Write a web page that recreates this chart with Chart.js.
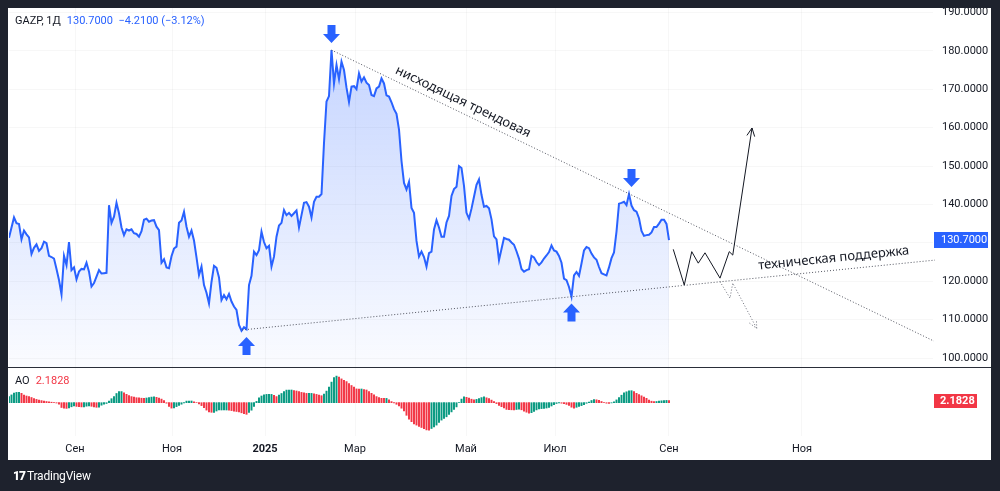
<!DOCTYPE html>
<html lang="ru">
<head>
<meta charset="utf-8">
<title>GAZP, 1Д</title>
<script src="https://cdn.jsdelivr.net/npm/chart.js@4/dist/chart.umd.min.js"></script>
<style>
    html, body { margin: 0; padding: 0; }
    body { width: 1000px; height: 491px; background: #1e222d; position: relative; overflow: hidden; font-family: Roboto, 'Noto Sans', sans-serif; }
    #panel { position: absolute; left: 8px; top: 8px; width: 983px; height: 452px; background: #fff; overflow: hidden; }
    #priceChart { position: absolute; left: -8px; top: -8px; }
    #aoChart { position: absolute; left: -8px; top: 359px; }
    #sep { position: absolute; left: 0; top: 359px; width: 983px; height: 1px; background: #2a2e39; }
    .legend { position: absolute; font-size: 11px; line-height: 14px; color: #131722; white-space: nowrap; }
    .legend span { margin-left: 6px; }
    #logo { position: absolute; left: 13px; top: 469px; color: #fff; font-size: 12px; line-height: 14px; letter-spacing: -0.2px; }
    #logo b { font-weight: 900; margin-right: 2px; letter-spacing: -1px; }
</style>
</head>
<body>
<div id="panel">
    <canvas id="priceChart" width="1000" height="367"></canvas>
    <canvas id="aoChart" width="1000" height="124"></canvas>
    <div id="sep"></div>
</div>
<div class="legend" style="left:15px; top:14px;"><b style="font-weight:normal" id="ticker"></b><span id="lastQuote" style="color:#2962ff"></span></div>
<div class="legend" style="left:15px; top:374px;">AO<span id="aoLast" style="color:#f23645"></span></div>
<div id="logo"><b>17</b>TradingView</div>

<script>
const ticker = 'GAZP, 1Д';

// daily closes, one per bar
const closes = [
    131.3, 134.0, 136.6, 135.1, 134.9, 130.9, 133.2, 132.2, 131.4, 127.1,
    128.7, 129.6, 127.9, 128.6, 130.3, 129.9, 126.6, 126.3, 125.9, 123.2,
    120.3, 116.6, 126.6, 124.2, 130.2, 122.9, 123.6, 120.5, 122.5, 123.2,
    123.1, 124.8, 122.5, 118.6, 119.5, 121.2, 122.9, 122.0, 122.1, 122.2,
    139.8, 135.2, 136.8, 140.4, 137.7, 134.0, 132.0, 133.5, 133.2, 133.5,
    132.5, 132.3, 131.6, 133.0, 136.0, 136.3, 135.5, 135.8, 135.9, 134.2,
    133.3, 124.8, 125.7, 123.6, 123.4, 126.5,
    128.5, 129.0, 135.2, 135.8, 138.1, 134.2, 131.6, 133.2, 130.6, 126.2,
    121.6, 123.8, 119.0, 117.0, 114.2, 119.8, 124.0, 123.5, 121.0, 115.1,
    116.4, 115.3, 116.7, 114.7, 113.4, 112.5, 108.6, 107.1, 108.0, 107.5,
    119.0, 121.4, 127.7, 126.8, 128.1, 132.9, 130.2, 128.6, 129.2, 123.8,
    126.4, 131.6, 134.5, 135.2, 138.5, 137.2, 137.8, 137.0, 137.7, 138.4,
    134.0, 137.2, 140.4, 140.6, 139.4, 136.6, 140.7, 142.0, 142.0, 142.7,
    156.0, 166.8, 168.2, 180.2, 171.5, 176.3, 172.6,
    177.2, 175.0, 170.4, 166.7, 170.7, 170.8, 170.0, 174.1, 172.0, 173.1,
    171.7, 171.1, 168.5, 168.2, 170.2, 170.7, 172.8, 171.5, 168.4, 168.1,
    166.6, 164.8, 163.6, 159.5, 151.3, 145.6, 143.9, 145.9, 139.1, 137.8,
    130.5, 126.4, 127.7, 126.3, 123.8, 127.3, 127.7, 133.5, 135.9, 134.0,
    131.6, 131.6, 135.3, 137.0, 142.2, 144.0, 144.6, 150.0, 149.5, 144.8,
    137.8, 136.3, 138.9, 142.0, 145.1, 146.5, 142.5, 139.4, 139.6, 139.0,
    136.1, 131.7, 130.9, 125.5, 128.4, 131.3,
    131.0, 130.8, 130.1, 129.5, 127.8, 125.9, 123.2, 122.5, 122.9, 123.1,
    126.6, 126.2, 125.0, 124.2, 124.9, 125.9, 126.7, 127.6, 129.3, 128.0,
    127.7, 126.6, 124.8, 120.7, 120.3, 118.5, 116.0, 121.5, 122.4, 121.4,
    124.6, 128.0, 128.9, 128.6, 127.2, 126.2, 125.6, 123.7, 122.1, 121.8,
    121.5, 123.6, 126.0, 127.5, 132.9, 140.2, 140.4, 140.7, 139.8, 142.7,
    139.7, 138.5, 138.1, 136.4, 133.1, 131.8, 132.0, 132.1, 132.7, 134.1,
    134.1, 135.0, 136.0, 136.0, 134.91, 130.7
];

// Awesome Oscillator, same bars
const aoValues = [
    6.0, 7.8, 9.6, 10.3, 10.3, 9.4, 7.6, 6.7, 6.2, 5.2,
    4.1, 3.3, 2.6, 2.1, 1.6, 1.2, 0.9, 0.5, 0.2, -0.3,
    -1.5, -4.8, -5.4, -5.7, -5.2, -4.1, -3.1, -3.7, -4.0, -4.2,
    -4.1, -3.5, -3.1, -3.6, -4.1, -4.6, -4.5, -2.5, -1.5, -0.8,
    1.7, 4.0, 6.1, 9.2, 11.0, 11.1, 9.9, 8.4, 7.1, 6.1,
    5.5, 5.0, 4.9, 4.5, 4.4, 4.7, 5.1, 5.6, 5.9, 5.4,
    4.7, 3.6, 2.0, -0.5, -3.8, -5.4, -5.3, -3.9, -2.7, -1.5,
    -0.2, 1.6, 1.7, 1.7, 0.9, 0.1, -1.2, -2.9, -4.9, -7.4,
    -9.1, -9.6, -9.6, -8.3, -7.3, -7.3, -7.3, -7.3, -7.4, -7.9,
    -8.4, -8.8, -9.2, -10.1, -10.9, -11.6, -9.6, -7.5, -3.8, 1.3,
    4.8, 6.7, 7.8, 8.3, 8.3, 8.3, 7.3, 6.1, 7.5, 9.2,
    11.0, 12.6, 12.7, 12.7, 12.2, 11.7, 11.0, 10.3, 9.8, 9.3,
    9.3, 9.3, 8.8, 8.3, 7.7, 7.0, 8.6, 11.6, 15.6, 20.6,
    25.2, 26.6, 25.6, 23.8, 22.4, 21.1, 19.2, 17.2, 15.5, 13.8,
    13.7, 13.7, 13.2, 12.7, 11.1, 9.4, 7.8, 6.1, 5.2, 4.4,
    4.3, 4.3, 2.8, 1.1, -0.2, -1.6, -3.3, -5.5, -8.2, -12.6,
    -16.4, -19.0, -21.1, -22.4, -23.6, -24.8, -26.0, -27.2, -27.5, -25.8,
    -24.1, -22.4, -19.6, -17.4, -15.8, -14.1, -11.7, -9.2, -6.7, -4.2,
    0.1, 3.6, 5.9, 5.4, 4.7, 3.5, 2.8, 3.3, 4.0, 5.1,
    5.8, 4.9, 4.0, 2.6, 1.2, -0.9, -2.7, -4.0, -5.3, -6.7,
    -6.9, -7.1, -7.2, -6.8, -6.4, -7.1, -8.5, -9.5, -10.4, -10.0,
    -8.6, -7.2, -6.2, -5.9, -5.6, -5.3, -4.6, -3.3, -2.0, -0.8,
    -0.1, -0.5, -0.9, -1.7, -2.8, -4.5, -5.5, -4.6, -3.8, -2.9,
    -1.9, -0.6, 0.7, 2.2, 3.2, 2.9, 2.3, 1.2, 0.1, -0.5,
    -0.8, -0.2, 0.9, 2.8, 5.0, 7.5, 9.8, 10.9, 11.9, 12.0,
    11.2, 9.4, 8.2, 6.9, 5.7, 4.4, 2.5, 1.5, 1.1, 1.2,
    1.6, 1.9, 2.2, 2.3, 2.1828
];

// time axis (bar index -> month label)
const monthIdx = [26.4, 65.2, 102.4, 138.4, 182.8, 218.4, 264, 317.2];
const monthLabels = ['Сен', 'Ноя', '2025', 'Мар', 'Май', 'Июл', 'Сен', 'Ноя'];
const priceTicks = [100, 110, 120, 130, 140, 150, 160, 170, 180, 190];

// drawings, in bar index / price units
const trendIdx = [129, 370];
const trendPrice = [180.2, 104.4];
const supportIdx = [93.2, 370.4];
const supportPrice = [107.3, 125.5];
const bullIdx = [265.7, 270.1, 273.1, 275.7, 278.4, 284.4, 288.1, 289.5, 297.2];
const bullPrice = [128.3, 119.0, 127.7, 124.7, 127.4, 120.8, 127.7, 126.8, 159.9];
const bearIdx = [284.4, 288.4, 289.5, 299.1];
const bearPrice = [119.9, 115.6, 119.5, 107.7];
const arrowIdx = [129, 249, 95, 225];
const arrowPrice = [180.2, 142.7, 107.3, 116.0];
const arrowDir = ['down', 'down', 'up', 'up'];
const trendText = 'нисходящая трендовая';
const trendTextAt = [181.6, 166.7];
const supportText = 'техническая поддержка';
const supportTextAt = [329.9, 126.0];

const xMax = 369.6;
const gridColor = 'rgba(42, 46, 57, 0.04)';
const uiFont = 'Roboto, "Noto Sans", sans-serif';

const last = closes[closes.length - 1];
const prev = closes[closes.length - 2];
const chg = last - prev;
const sign = n => (n < 0 ? '\u2212' : '+');
document.getElementById('ticker').textContent = ticker;
document.getElementById('lastQuote').textContent =
    last.toFixed(4) + '\u00a0\u00a0' + sign(chg) + Math.abs(chg).toFixed(4) +
    ' (' + sign(chg) + Math.abs(chg / prev * 100).toFixed(2) + '%)';
document.getElementById('aoLast').textContent = aoValues[aoValues.length - 1].toFixed(4);

function line(ctx, xs, ys, px, py) {
    ctx.beginPath();
    xs.forEach((v, i) => {
        if (i === 0) ctx.moveTo(px(v), py(ys[i]));
        else ctx.lineTo(px(v), py(ys[i]));
    });
    ctx.stroke();
}

function arrowHead(ctx, x0, y0, x1, y1) {
    const a = Math.atan2(y1 - y0, x1 - x0);
    ctx.beginPath();
    ctx.moveTo(x1 - 9 * Math.cos(a - 0.45), y1 - 9 * Math.sin(a - 0.45));
    ctx.lineTo(x1, y1);
    ctx.lineTo(x1 - 9 * Math.cos(a + 0.45), y1 - 9 * Math.sin(a + 0.45));
    ctx.stroke();
}

function label(ctx, text, at, fromIdx, fromPrice, px, py) {
    const ang = Math.atan2(py(fromPrice[1]) - py(fromPrice[0]), px(fromIdx[1]) - px(fromIdx[0]));
    ctx.save();
    ctx.translate(px(at[0]), py(at[1]));
    ctx.rotate(ang);
    ctx.font = '13px "Noto Sans", sans-serif';
    ctx.fillStyle = '#131722';
    ctx.textAlign = 'center';
    ctx.textBaseline = 'middle';
    ctx.fillText(text, 0, 0);
    ctx.restore();
}

const drawings = {
    id: 'drawings',
    afterDatasetsDraw(chart) {
        const { ctx, scales: { x, y } } = chart;
        const px = v => x.getPixelForValue(v);
        const py = v => y.getPixelForValue(v);
        ctx.save();
        ctx.lineWidth = 1;

        // trend + support (dotted)
        ctx.setLineDash([1, 2]);
        ctx.strokeStyle = '#50535e';
        line(ctx, trendIdx, trendPrice, px, py);
        line(ctx, supportIdx, supportPrice, px, py);

        // bearish path
        ctx.strokeStyle = '#6a6d78';
        line(ctx, bearIdx, bearPrice, px, py);
        let n = bearIdx.length - 1;
        arrowHead(ctx, px(bearIdx[n - 1]), py(bearPrice[n - 1]), px(bearIdx[n]), py(bearPrice[n]));

        // bullish path
        ctx.setLineDash([]);
        ctx.strokeStyle = '#131722';
        line(ctx, bullIdx, bullPrice, px, py);
        n = bullIdx.length - 1;
        arrowHead(ctx, px(bullIdx[n - 1]), py(bullPrice[n - 1]), px(bullIdx[n]), py(bullPrice[n]));

        // blue block arrows
        ctx.fillStyle = '#2962ff';
        arrowIdx.forEach((v, i) => {
            const cx = px(v);
            const s = arrowDir[i] === 'down' ? -1 : 1;
            const tip = py(arrowPrice[i]) + s * 7;
            ctx.beginPath();
            ctx.moveTo(cx, tip);
            ctx.lineTo(cx + 8.5, tip + s * 9);
            ctx.lineTo(cx + 4, tip + s * 9);
            ctx.lineTo(cx + 4, tip + s * 18);
            ctx.lineTo(cx - 4, tip + s * 18);
            ctx.lineTo(cx - 4, tip + s * 9);
            ctx.lineTo(cx - 8.5, tip + s * 9);
            ctx.closePath();
            ctx.fill();
        });

        label(ctx, trendText, trendTextAt, trendIdx, trendPrice, px, py);
        label(ctx, supportText, supportTextAt, supportIdx, supportPrice, px, py);
        ctx.restore();
    },
    afterDraw(chart) {
        const { ctx, scales: { y } } = chart;
        const yy = Math.round(y.getPixelForValue(last));
        ctx.save();
        ctx.fillStyle = '#2962ff';
        ctx.fillRect(934, yy - 8, 54, 16);
        ctx.fillStyle = '#fff';
        ctx.font = '11px ' + uiFont;
        ctx.textBaseline = 'middle';
        ctx.fillText(last.toFixed(4), 941, yy + 0.5);
        ctx.restore();
    }
};

const aoBox = {
    id: 'aoBox',
    afterDraw(chart) {
        const { ctx, scales: { y } } = chart;
        const v = aoValues[aoValues.length - 1];
        const yy = Math.round(y.getPixelForValue(v));
        ctx.save();
        ctx.fillStyle = '#f23645';
        ctx.fillRect(934, yy - 7, 43, 14);
        ctx.fillStyle = '#fff';
        ctx.font = 'bold 11px ' + uiFont;
        ctx.textBaseline = 'middle';
        ctx.fillText(v.toFixed(4), 940, yy + 0.5);
        ctx.restore();
    }
};

let ctx = document.getElementById('priceChart').getContext('2d');
const fillGrad = ctx.createLinearGradient(0, 8, 0, 367);
fillGrad.addColorStop(0, 'rgba(41, 98, 255, 0.30)');
fillGrad.addColorStop(1, 'rgba(41, 98, 255, 0.02)');

new Chart(ctx, {
    type: 'line',
    data: {
        datasets: [{
            data: closes.map((v, i) => ({ x: i, y: v })),
            borderColor: '#2962ff',
            borderWidth: 2,
            backgroundColor: fillGrad,
            fill: 'start',
            pointRadius: 0,
            tension: 0
        }]
    },
    options: {
        responsive: false,
        animation: false,
        events: [],
        layout: { padding: { left: 9, top: 8, right: 9, bottom: 0 } },
        plugins: { legend: { display: false }, tooltip: { enabled: false } },
        scales: {
            x: {
                type: 'linear',
                min: 0,
                max: xMax,
                afterBuildTicks: s => { s.ticks = monthIdx.map(v => ({ value: v })); },
                afterFit: s => { s.height = 0; s.paddingLeft = 0; s.paddingRight = 0; },
                ticks: { display: false },
                grid: { color: gridColor, drawTicks: false },
                border: { display: false }
            },
            y: {
                position: 'right',
                min: 97.66,
                max: 191.15,
                afterBuildTicks: s => { s.ticks = priceTicks.map(v => ({ value: v })); },
                afterFit: s => { s.width = 58; s.paddingTop = 0; s.paddingBottom = 0; },
                ticks: {
                    padding: 9,
                    color: '#131722',
                    font: { size: 11, family: uiFont },
                    callback: v => v.toFixed(4)
                },
                grid: { color: gridColor, drawTicks: false },
                border: { display: false }
            }
        }
    },
    plugins: [drawings]
});

ctx = document.getElementById('aoChart').getContext('2d');

new Chart(ctx, {
    type: 'bar',
    data: {
        datasets: [{
            data: aoValues.map((v, i) => ({ x: i, y: v })),
            backgroundColor: aoValues.map((v, i) => (i > 0 && v < aoValues[i - 1]) ? '#f23645' : '#089981'),
            barThickness: 1.3,
            grouped: false
        }]
    },
    options: {
        responsive: false,
        animation: false,
        events: [],
        layout: { padding: { left: 9, top: 1, right: 9, bottom: 0 } },
        plugins: { legend: { display: false }, tooltip: { enabled: false } },
        scales: {
            x: {
                type: 'linear',
                offset: false,
                min: 0,
                max: xMax,
                afterBuildTicks: s => { s.ticks = monthIdx.map(v => ({ value: v })); },
                afterFit: s => { s.height = 55; s.paddingLeft = 0; s.paddingRight = 0; },
                ticks: {
                    autoSkip: false,
                    maxRotation: 0,
                    padding: 7,
                    color: '#131722',
                    font: c => ({ size: 11, family: uiFont, weight: monthLabels[c.index] === '2025' ? 'bold' : 'normal' }),
                    callback: (v, i) => monthLabels[i]
                },
                grid: { color: gridColor, drawTicks: false, offset: false },
                border: { display: false }
            },
            y: {
                position: 'right',
                min: -33.3,
                max: 34.7,
                afterFit: s => { s.width = 58; s.paddingTop = 0; s.paddingBottom = 0; },
                ticks: { display: false },
                grid: { display: false },
                border: { display: false }
            }
        }
    },
    plugins: [aoBox]
});
</script>
</body>
</html>
